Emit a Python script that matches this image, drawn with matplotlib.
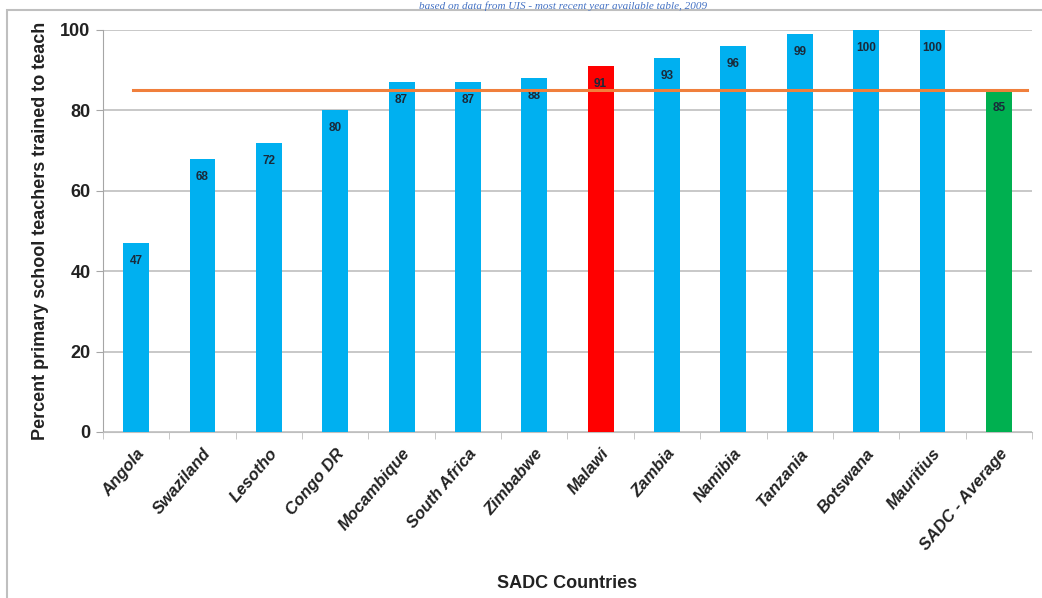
import matplotlib
matplotlib.use("Agg")
import matplotlib.pyplot as plt
from matplotlib.patches import Rectangle

countries = ["Angola", "Swaziland", "Lesotho", "Congo DR", "Mocambique", "South Africa",
             "Zimbabwe", "Malawi", "Zambia", "Namibia", "Tanzania", "Botswana",
             "Mauritius", "SADC - Average"]
values = [47, 68, 72, 80, 87, 87, 88, 91, 93, 96, 99, 100, 100, 85]
bar_colors = ["#00B0F0"] * 7 + ["#FF0000"] + ["#00B0F0"] * 5 + ["#00B050"]
average = 85
yticks = [0, 20, 40, 60, 80, 100]

plt.rcParams['font.family'] = ['Liberation Sans Narrow', 'Liberation Sans', 'DejaVu Sans']

fig = plt.figure(figsize=(10.42, 5.98), dpi=100)
ax = fig.add_axes([103/1042, 1 - 432/598, (1032-103)/1042, (432-30)/598])

x = list(range(len(countries)))
ax.bar(x, values, width=0.39, color=bar_colors, zorder=3)
for xi, v in zip(x, values):
    ax.text(xi, v - 4.5, f"{v}", ha="center", va="center", fontsize=8.5,
            color="#1a2a3a", fontweight="bold", zorder=4)

ax.plot([-0.05, 13.42], [average, average], color="#F07F3C", lw=2.2, zorder=5)

ax.set_ylim(0, 100)
ax.set_xlim(-0.42, 13.46)
ax.set_yticks(yticks)
ax.set_yticklabels([str(t) for t in yticks], fontsize=13, fontweight="bold", color="#222222")
ax.yaxis.grid(True, color="#BFBFBF", lw=1.2, zorder=0)
ax.set_axisbelow(True)
for s in ["top", "right"]:
    ax.spines[s].set_visible(False)
ax.spines["left"].set_color("#A6A6A6")
ax.spines["bottom"].set_color("#BFBFBF")
ax.tick_params(axis="y", length=5, color="#A6A6A6", pad=4)

ax.set_xticks(x)
ax.set_xticklabels(countries, rotation=50, ha="right", rotation_mode="anchor",
                   fontsize=12, fontweight="bold", fontstyle="italic", color="#222222")
ax.tick_params(axis="x", which="major", length=0, pad=10)
ax.set_xticks([i + 0.5 for i in range(-1, len(countries))], minor=True)
ax.tick_params(axis="x", which="minor", length=5, color="#BFBFBF")

ax.set_ylabel("Percent primary school teachers trained to teach", fontsize=13,
              fontweight="bold", color="#222222", labelpad=8)
ax.set_xlabel("SADC Countries", fontsize=13, fontweight="bold", color="#222222")
ax.xaxis.set_label_coords(0.5, -0.355)

# outer frame
fig.add_artist(Rectangle((7/1042, -0.01), 1.1, 1 - 10/598 + 0.01, transform=fig.transFigure,
                         fill=False, edgecolor="#BFBFBF", lw=1.5))
# caption at top
fig.text(0.54, 1 - 1/598, "based on data from UIS - most recent year available table, 2009",
         ha="center", va="top", fontsize=8, fontstyle="italic",
         family=["Liberation Serif", "DejaVu Serif"], color="#4472C4")

fig.savefig("out.png", dpi=100)
